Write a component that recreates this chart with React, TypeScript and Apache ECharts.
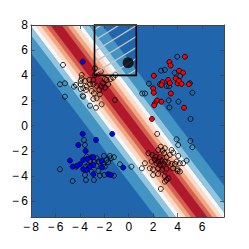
import React, { useEffect, useRef } from 'react';
import * as echarts from 'echarts';

const xRange = [-8, 7.8];
const yRange = [-7.25, 8];

// Decision bands: lines x + bandSlope * y = bandCenter ± offset
const bandSlope = 0.782;
const bandCenter = 0.3;
const bandEdges = [0, 0.49, 0.9, 1.31, 1.72, 2.13, 2.7, 3.76];
const bandColors = ['#b2182b', '#d6604d', '#f4a582', '#fddbc7', '#f7f7f7', '#92c5de', '#4393c3'];
const outerColor = '#2166ac';

// hatched box [x0, x1, y0, y1]
const boxCorners = [-2.8, 0.62, 4.0, 8.0];
const queryPoint = [-0.05, 5.0];

const upperLeftOpen = [
  [-5.38, 4.83], [-2.77, 4.55], [-2.28, 4.31], [-1.95, 3.71], [-1.48, 3.71], [-1.27, 3.82], [-1.09, 4.03],
  [-2.77, 4.03], [-2.9, 3.63], [-3.23, 3.63], [-3.58, 3.55], [-3.93, 3.55], [-4.32, 3.24], [-4.48, 3.1],
  [-5.63, 3.29], [-5.22, 3.37], [-3.93, 3.29], [-3.72, 2.97], [-3.44, 3.1], [-3.17, 3.29], [-2.9, 3.29],
  [-2.63, 3.18], [-2.22, 3.1], [-2.13, 3.37], [-1.95, 3.02], [-1.68, 3.29], [-3.5, 2.84], [-3.93, 2.92],
  [-3.03, 2.76], [-2.85, 2.58], [-2.41, 2.84], [-2.36, 2.5], [-2.63, 2.18], [-2.9, 2.12], [-3.77, 2.39],
  [-3.72, 2.31], [-5.22, 2.31], [-2.22, 1.7], [-3.17, 1.59], [-2.68, 1.43], [-3.85, 4.03], [-3.85, 3.77],
  [-1.13, 2.04], [-1.81, 3.63],
];

const upperRightRed = [
  [4.6, 5.48], [3.33, 5.06], [3.43, 4.78], [2.06, 3.97], [4.12, 4.36], [4.45, 4.21], [3.84, 3.75],
  [3.23, 3.63], [2.76, 3.46], [3.37, 3.39], [2.67, 3.24], [4.0, 3.37], [4.11, 3.58], [4.33, 3.32],
  [4.92, 3.3], [2.0, 2.97], [2.05, 2.62], [3.45, 2.56], [2.31, 2.01], [2.67, 1.91], [2.14, 1.77],
  [2.08, 1.62], [4.53, 1.43], [1.9, 0.54],
];

const upperRightOpen = [
  [3.97, 5.48], [2.96, 4.43], [2.65, 4.37], [3.76, 4.21], [4.21, 3.95], [2.55, 3.29], [3.1, 3.16],
  [3.31, 3.13], [5.01, 3.37], [1.65, 3.34], [1.1, 2.56], [1.33, 2.56], [5.21, 2.62], [3.27, 2.01],
  [4.07, 1.91], [3.33, 1.45], [5.06, 0.54],
];

const lowerLeftBlue = [
  [-3.77, -0.65], [-1.35, -0.65], [-2.68, -1.13], [-4.13, -1.53], [-3.53, -2.0], [-3.03, -2.5],
  [-2.9, -2.5], [-4.81, -2.77], [-3.72, -2.72], [-3.39, -2.64], [-2.22, -2.8], [-3.99, -3.06],
  [-2.9, -3.12], [-4.59, -3.25], [-4.21, -3.17], [-3.17, -3.25], [-2.17, -3.3], [-0.45, -3.33],
  [-3.72, -3.46], [-3.44, -3.51], [-2.9, -3.85], [-1.68, -3.85], [-1.46, -3.91], [-3.77, 5.09],
];

const lowerLeftOpen = [
  [-3.66, -1.13], [-3.58, -1.53], [-3.44, -2.46], [-2.63, -2.58], [-2.03, -2.4], [-1.54, -2.4],
  [-1.21, -2.5], [-1.46, -2.58], [-3.17, -2.8], [-2.82, -2.85], [-2.49, -2.85], [-1.81, -2.72],
  [-1.68, -2.9], [-2.09, -3.06], [-3.31, -3.12], [-2.63, -3.17], [-4.32, -3.25], [-3.5, -3.25],
  [-1.95, -3.25], [-0.72, -3.06], [-5.63, -3.46], [-3.03, -3.65], [-2.49, -3.59], [-3.58, -3.91],
  [-2.36, -3.97], [-2.0, -3.91], [-1.21, -3.97], [-3.5, -4.31], [-2.85, -4.31], [-4.59, -4.39],
];

const lowerRightOpen = [
  [2.33, -0.65], [3.92, -1.08], [4.05, -1.53], [5.05, -1.21], [5.21, -1.71], [0.22, -3.25], [1.08, -3.38],
  [1.61, -2.19], [2.63, -1.66], [2.96, -1.79], [2.41, -1.93], [2.77, -1.98], [3.51, -1.93], [3.64, -2.14],
  [3.37, -2.32], [2.9, -2.19], [1.92, -2.32], [2.2, -2.46], [2.55, -2.5], [3.1, -2.5], [4.05, -2.4],
  [1.87, -2.85], [2.14, -2.72], [2.41, -2.85], [2.69, -2.77], [2.96, -2.85], [2.28, -2.98], [2.55, -3.12],
  [2.82, -3.04], [3.23, -2.93], [3.51, -3.04], [3.78, -3.04], [3.92, -2.85], [4.19, -2.98], [4.46, -2.98],
  [4.74, -2.77], [1.33, -2.98], [1.73, -3.38], [2.0, -3.46], [2.41, -3.38], [2.74, -3.51], [3.1, -3.43],
  [3.64, -3.38], [4.0, -3.46], [4.19, -3.65], [4.0, -3.59], [2.0, -3.91], [2.41, -3.83], [2.96, -3.99],
  [3.1, -4.31], [2.96, -4.44], [3.23, -4.17], [2.63, -5.02],
];

const fmtTick = (v: number) => {
  if (Math.abs(v - Math.round(v / 2) * 2) > 1e-6) return '';
  const r = Math.round(v);
  return r < 0 ? '\u2212\u2009' + Math.abs(r) : String(r);
};

export default function App() {
  const ref = useRef<HTMLDivElement>(null);
  useEffect(() => {
    if (!ref.current) return;
    const chart = echarts.init(ref.current, undefined, { renderer: 'svg' });

    const bandData: number[][] = [[-bandEdges[1], bandEdges[1], 0]];
    for (let i = 1; i < bandColors.length; i++) {
      bandData.push([bandEdges[i], bandEdges[i + 1], i]);
      bandData.push([-bandEdges[i + 1], -bandEdges[i], i]);
    }

    const labelStyle = {
      color: '#000',
      fontSize: 12,
      fontFamily: 'Liberation Sans, Arial, sans-serif',
    };
    const axisLine = { show: true, onZero: false, lineStyle: { color: '#444', width: 1 } };
    const axisTick = { show: true, inside: true, length: 4, lineStyle: { color: '#444', width: 0.8 } };

    const scatterBase = (data: number[][], fill: string, z: number) => ({
      type: 'scatter',
      data,
      symbol: 'circle',
      symbolSize: 5,
      z,
      itemStyle: { color: fill, borderColor: '#000', borderWidth: 0.8, opacity: 1 },
      silent: true,
    });

    chart.setOption({
      animation: false,
      backgroundColor: '#fff',
      grid: {
        left: 31, top: 25, width: 193, height: 192,
        show: true, backgroundColor: outerColor, borderWidth: 0,
      },
      xAxis: [
        {
          type: 'value', min: xRange[0], max: xRange[1], interval: 2, position: 'bottom', z: 10,
          axisLine, axisTick, splitLine: { show: false },
          axisLabel: { ...labelStyle, margin: 4, formatter: fmtTick, showMaxLabel: false },
        },
        {
          type: 'value', min: xRange[0], max: xRange[1], interval: 2, position: 'top', z: 10,
          axisLine, axisTick, splitLine: { show: false }, axisLabel: { show: false },
        },
      ],
      yAxis: [
        {
          type: 'value', min: yRange[0], max: yRange[1], splitNumber: 8, position: 'left', z: 10,
          axisLine, axisTick, splitLine: { show: false },
          axisLabel: { ...labelStyle, margin: 3, formatter: fmtTick, showMinLabel: false },
        },
        {
          type: 'value', min: yRange[0], max: yRange[1], splitNumber: 8, position: 'right', z: 10,
          axisLine, axisTick, splitLine: { show: false }, axisLabel: { show: false },
        },
      ],
      series: [
        {
          type: 'custom',
          clip: true,
          z: 1,
          silent: true,
          data: bandData,
          renderItem: (params: any, api: any) => {
            const lo = api.value(0);
            const hi = api.value(1);
            const ci = api.value(2);
            const yT = yRange[1] + 3;
            const yB = yRange[0] - 3;
            const pts = [
              api.coord([bandCenter + lo - bandSlope * yT, yT]),
              api.coord([bandCenter + hi - bandSlope * yT, yT]),
              api.coord([bandCenter + hi - bandSlope * yB, yB]),
              api.coord([bandCenter + lo - bandSlope * yB, yB]),
            ];
            const col = bandColors[ci];
            return { type: 'polygon', shape: { points: pts }, style: { fill: col, stroke: col, lineWidth: 0.6 } };
          },
        },
        scatterBase(upperLeftOpen, 'rgba(0,0,0,0)', 3),
        scatterBase(upperRightOpen, 'rgba(0,0,0,0)', 3),
        scatterBase(lowerLeftOpen, 'rgba(0,0,0,0)', 3),
        scatterBase(lowerRightOpen, 'rgba(0,0,0,0)', 3),
        scatterBase(upperRightRed, '#ff0000', 4),
        scatterBase(lowerLeftBlue, '#0000ff', 4),
        {
          type: 'custom',
          clip: false,
          z: 8,
          silent: true,
          data: [boxCorners],
          renderItem: (params: any, api: any) => {
            const tl = api.coord([api.value(0), api.value(3)]);
            const br = api.coord([api.value(1), api.value(2)]);
            const L = tl[0], T = tl[1], R = br[0], B = br[1];
            const children: any[] = [];
            const m = 0.62;
            const step = 11;
            // hatch lines: y = c - m * x
            for (let c = T + m * L + step * 0.4; c < B + m * R; c += step) {
              const xa = Math.max(L, (c - B) / m);
              const xb = Math.min(R, (c - T) / m);
              if (xb > xa) {
                children.push({
                  type: 'polyline',
                  shape: { points: [[xa, c - m * xa], [xb, c - m * xb]] },
                  style: { stroke: '#c4c4c4', lineWidth: 1.3, fill: 'none' },
                });
              }
            }
            children.push({
              type: 'rect',
              shape: { x: L, y: T, width: R - L, height: B - T },
              style: { fill: 'none', stroke: '#000', lineWidth: 1.6 },
            });
            return { type: 'group', children };
          },
        },
        {
          type: 'scatter',
          data: [queryPoint],
          symbol: 'circle',
          symbolSize: 11,
          z: 9,
          itemStyle: { color: '#000' },
          silent: true,
        },
      ],
    });
    return () => chart.dispose();
  }, []);
  return <div ref={ref} style={{ position: 'fixed', left: 0, top: 0, width: 249, height: 249 }} />;
}
